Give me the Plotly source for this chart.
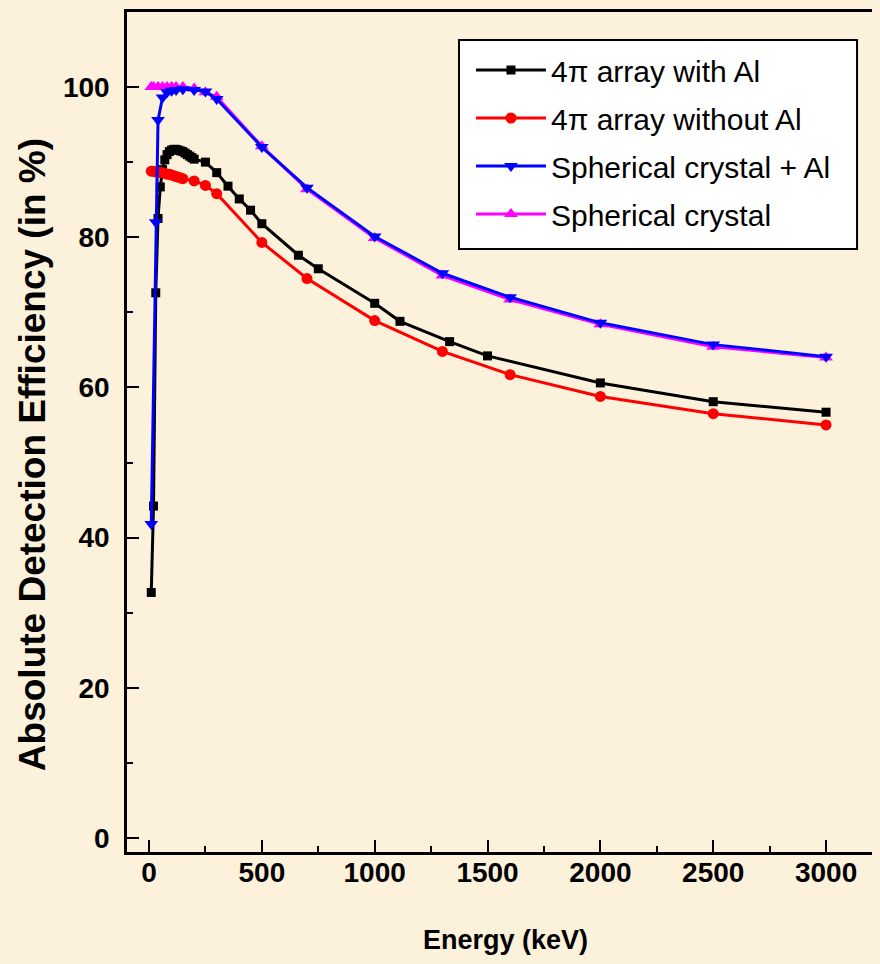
import plotly.graph_objects as go

# ---- data ----
energy_black = [10, 20, 30, 40, 50, 60, 70, 80, 90, 100, 110, 120, 130, 140, 150, 160, 170, 180, 190, 200,
                250, 300, 350, 400, 450, 500, 662, 750, 1000, 1112, 1332, 1500, 2000, 2500, 3000]
eff_black = [32.7, 44.2, 72.6, 82.5, 86.7, 89.0, 90.3, 91.0, 91.4, 91.6, 91.7, 91.7, 91.6, 91.5, 91.4, 91.2,
             91.0, 90.8, 90.6, 90.4, 90.0, 88.6, 86.8, 85.1, 83.6, 81.8, 77.6, 75.8, 71.2, 68.8, 66.1, 64.2,
             60.6, 58.1, 56.7]

energy_red = [10, 20, 30, 40, 50, 60, 70, 80, 90, 100, 110, 120, 130, 140, 150, 200, 250, 300,
              500, 700, 1000, 1300, 1600, 2000, 2500, 3000]
eff_red = [88.8, 88.8, 88.7, 88.7, 88.6, 88.6, 88.5, 88.4, 88.4, 88.3, 88.2, 88.1, 88.0, 87.9, 87.8,
           87.5, 86.9, 85.8, 79.3, 74.5, 68.9, 64.8, 61.7, 58.8, 56.5, 55.0]

energy_blue = [10, 30, 40, 60, 80, 100, 120, 150, 200, 250, 300, 500, 700, 1000, 1300, 1600, 2000, 2500, 3000]
eff_blue = [41.8, 82.0, 95.6, 98.6, 99.3, 99.5, 99.6, 99.7, 99.6, 99.4, 98.4, 92.0, 86.6, 80.1, 75.2,
            72.0, 68.6, 65.7, 64.1]

energy_mag = [10, 20, 40, 60, 80, 100, 120, 150, 200, 250, 300, 500, 700, 1000, 1300, 1600, 2000, 2500, 3000]
eff_mag = [100.0, 100.0, 100.0, 100.0, 100.0, 100.0, 100.0, 100.0, 99.8, 99.3, 98.7, 92.1, 86.4, 79.9,
           74.9, 71.7, 68.4, 65.4, 64.0]

names = ["4\u03c0 array with Al", "4\u03c0 array without Al", "Spherical crystal + Al", "Spherical crystal"]
x_ticks = [0, 500, 1000, 1500, 2000, 2500, 3000]
y_ticks = [0, 20, 40, 60, 80, 100]
x_title = "Energy (keV)"
y_title = "Absolute Detection Efficiency (in %)"

FONT = "Liberation Sans, Arial, sans-serif"
BG = "#FCF1DA"

fig = go.Figure()

fig.add_trace(go.Scatter(x=energy_black, y=eff_black, name=names[0], mode="lines+markers",
                         line=dict(color="black", width=3),
                         marker=dict(symbol="square", size=9, color="black"),
                         legendrank=1, legendgroup="a"))
fig.add_trace(go.Scatter(x=energy_red, y=eff_red, name=names[1], mode="lines+markers",
                         line=dict(color="#FF0000", width=3),
                         marker=dict(symbol="circle", size=11, color="#FF0000"),
                         legendrank=2, legendgroup="b"))
fig.add_trace(go.Scatter(x=energy_mag, y=eff_mag, name=names[3], mode="lines+markers",
                         line=dict(color="#FF00FF", width=3),
                         marker=dict(symbol="triangle-up", size=12, color="#FF00FF"),
                         legendrank=4, legendgroup="d"))
fig.add_trace(go.Scatter(x=energy_blue, y=eff_blue, name=names[2], mode="lines+markers",
                         line=dict(color="#0000FF", width=3),
                         marker=dict(symbol="triangle-down", size=12, color="#0000FF"),
                         legendrank=3, legendgroup="c"))

fig.update_layout(
    width=872, height=956,
    margin=dict(l=119, r=0, t=4, b=112),
    paper_bgcolor=BG, plot_bgcolor=BG,
    font=dict(family=FONT, color="black"),
    showlegend=True,
    legend=dict(x=0.4568, y=0.9619, xanchor="left", yanchor="top",
                bgcolor="rgba(0,0,0,0)", borderwidth=0,
                font=dict(family=FONT, size=30, color="black"),
                itemwidth=70, tracegroupgap=6, traceorder="grouped"),
    shapes=[dict(type="rect", xref="paper", yref="paper", x0=0.4409, x1=0.9695, y0=0.7179, y1=0.9667,
                 fillcolor="white", line=dict(color="black", width=2), layer="above")],
    xaxis=dict(range=[-97.5, 3239], tickvals=x_ticks, ticktext=[str(v) for v in x_ticks],
               automargin=False,
               showgrid=False, zeroline=False, showline=True, linecolor="black", linewidth=2.5,
               mirror=True, ticks="inside", ticklen=12, tickwidth=2, tickcolor="black",
               minor=dict(ticks="inside", dtick=250, tick0=0, ticklen=6, tickwidth=2, tickcolor="black"),
               tickfont=dict(family=FONT, size=28, weight="bold"), ticklabelstandoff=-6),
    yaxis=dict(range=[-1.86, 109.99], tickvals=y_ticks, ticktext=[str(v) for v in y_ticks],
               automargin=False,
               showgrid=False, zeroline=False, showline=True, linecolor="black", linewidth=2.5,
               ticks="inside", ticklen=12, tickwidth=2, tickcolor="black",
               minor=dict(ticks="inside", dtick=10, tick0=0, ticklen=6, tickwidth=2, tickcolor="black"),
               tickfont=dict(family=FONT, size=28, weight="bold"), ticklabelstandoff=9),
    annotations=[
        dict(text=x_title, xref="paper", yref="paper", x=0.502, y=-0.1048,
             xanchor="center", yanchor="middle", showarrow=False,
             font=dict(family=FONT, size=27, weight="bold", color="black")),
        dict(text=y_title, xref="paper", yref="paper", x=-0.126, y=0.4726, textangle=-90,
             xanchor="center", yanchor="middle", showarrow=False,
             font=dict(family=FONT, size=37, weight="bold", color="black")),
    ],
)

fig.write_html("out.html", post_script="document.body.style.background='" + BG + "';")
